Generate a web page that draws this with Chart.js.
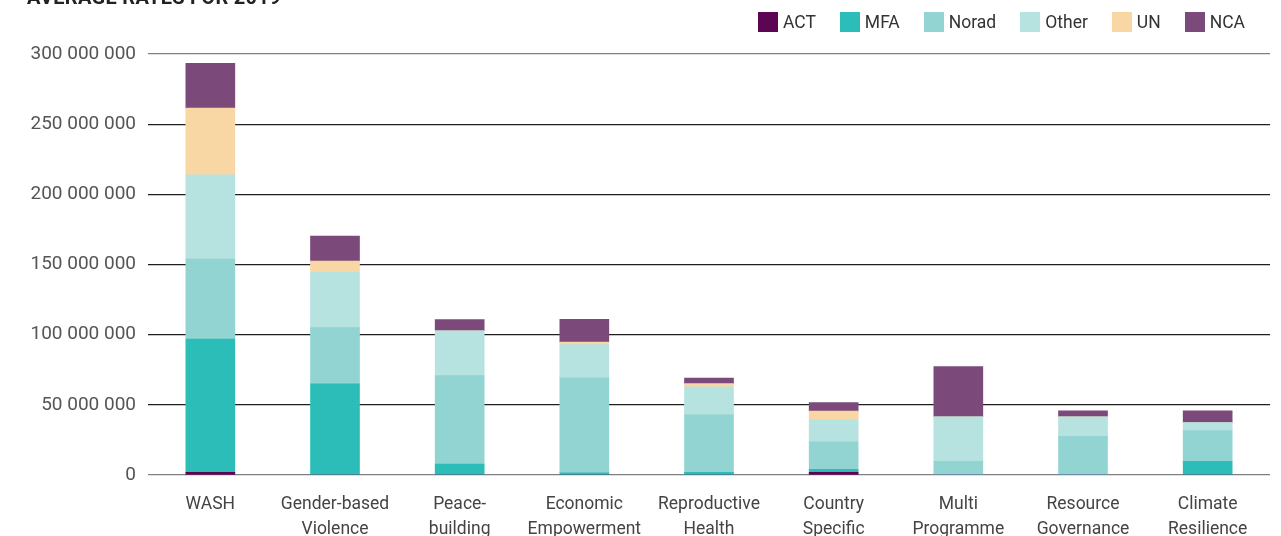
<!DOCTYPE html>
<html>
<head>
<meta charset="utf-8">
<script src="https://cdn.jsdelivr.net/npm/chart.js@4"></script>
<style>
  body { margin: 0; background: #fff; overflow: hidden; }
  #wrap { position: relative; width: 1281px; height: 536px; overflow: hidden; }
  #title { position: absolute; left: 27px; top: -13px; font: bold 20px Roboto, sans-serif; line-height: 20px; color: #222; letter-spacing: 0.3px; }
  #legend { position: absolute; top: 12px; right: 36px; display: flex; gap: 24px; font: 17.5px Roboto, sans-serif; color: #333; }
  #legend .item { display: flex; align-items: center; line-height: 20px; }
  #legend .box { width: 20px; height: 20px; margin-right: 5px; }
</style>
</head>
<body>
<div id="wrap">
  <canvas id="chart"></canvas>
  <div id="title">AVERAGE RATES FOR 2019</div>
  <div id="legend"></div>
</div>
<script>
// categories and series (NOK)
const categories = ['WASH', ['Gender-based', 'Violence'], ['Peace-', 'building'], ['Economic', 'Empowerment'],
  ['Reproductive', 'Health'], ['Country', 'Specific'], ['Multi', 'Programme'], ['Resource', 'Governance'], ['Climate', 'Resilience']];

const act   = [1900000, 0, 0, 0, 0, 1900000, 0, 0, 0];
const mfa   = [95000000, 65000000, 7800000, 1600000, 1900000, 2100000, 0, 0, 9700000];
const norad = [57000000, 40000000, 63000000, 67600000, 41000000, 19700000, 9700000, 27500000, 22000000];
const other = [60000000, 39400000, 32000000, 23700000, 20000000, 15600000, 31800000, 14000000, 5700000];
const un    = [47500000, 8000000, 0, 1900000, 2200000, 6200000, 0, 0, 0];
const nca   = [32000000, 17800000, 8000000, 16200000, 4000000, 6100000, 35700000, 4200000, 8300000];

const yTicks = [0, 50000000, 100000000, 150000000, 200000000, 250000000, 300000000];

const series = [
  { label: 'ACT', data: act, color: '#5c0553' },
  { label: 'MFA', data: mfa, color: '#2dbdb9' },
  { label: 'Norad', data: norad, color: '#91d4d1' },
  { label: 'Other', data: other, color: '#b6e2df' },
  { label: 'UN', data: un, color: '#f8d7a5' },
  { label: 'NCA', data: nca, color: '#7b4a7b' }
];

// html legend
const legend = document.getElementById('legend');
series.forEach(s => {
  const item = document.createElement('div');
  item.className = 'item';
  item.innerHTML = '<span class="box" style="background:' + s.color + '"></span>' + s.label;
  legend.appendChild(item);
});

function fmt(v) {
  return String(v).replace(/\B(?=(\d{3})+(?!\d))/g, ' ');
}

const ctx = document.getElementById('chart').getContext('2d');
new Chart(ctx, {
  type: 'bar',
  data: {
    labels: categories,
    datasets: series.map(s => ({
      label: s.label,
      data: s.data,
      backgroundColor: s.color,
      borderWidth: 0,
      barThickness: 49
    }))
  },
  options: {
    responsive: true,
    maintainAspectRatio: false,
    animation: false,
    layout: { padding: { top: 54, right: 11, left: 0, bottom: 0 } },
    plugins: {
      legend: { display: false },
      tooltip: { enabled: false }
    },
    scales: {
      x: {
        stacked: true,
        grid: { display: false },
        border: { display: false },
        ticks: {
          color: '#444',
          padding: 9,
          maxRotation: 0,
          font: { family: 'Roboto', size: 17.5, lineHeight: 1.42 }
        },
        afterFit: scale => { scale.height = 61; }
      },
      y: {
        stacked: true,
        min: 0,
        max: 300000000,
        afterBuildTicks: scale => { scale.ticks = yTicks.map(v => ({ value: v })); },
        grid: {
          drawTicks: false,
          lineWidth: 1.2,
          color: c => (c.tick && (c.tick.value === 0 || c.tick.value === 300000000)) ? '#808080' : '#1e1e1e'
        },
        border: { display: false },
        ticks: {
          color: '#555',
          padding: 12,
          font: { family: 'Roboto', size: 19 },
          callback: v => fmt(v)
        },
        afterFit: scale => { scale.width = 148; }
      }
    }
  }
});
</script>
</body>
</html>
